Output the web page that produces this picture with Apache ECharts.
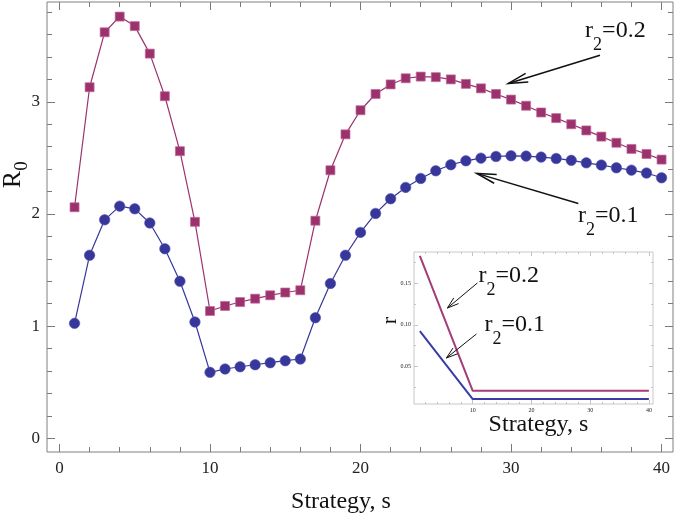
<!DOCTYPE html>
<html><head><meta charset="utf-8">
<script src="https://cdn.jsdelivr.net/npm/echarts@6/dist/echarts.min.js"></script>
<style>html,body{margin:0;padding:0;background:#fff}#c{width:675px;height:520px}</style>
</head><body><div id="c"></div>
<script>
// ---- data ----
const strategy = [1,2,3,4,5,6,7,8,9,10,11,12,13,14,15,16,17,18,19,20,21,22,23,24,25,26,27,28,29,30,31,32,33,34,35,36,37,38,39,40];
const r0_r2_02 = [2.06,3.13,3.62,3.76,3.675,3.43,3.05,2.56,1.93,1.135,1.18,1.215,1.245,1.275,1.30,1.32,1.94,2.39,2.71,2.925,3.07,3.155,3.21,3.225,3.22,3.20,3.16,3.12,3.07,3.02,2.965,2.905,2.855,2.80,2.745,2.69,2.635,2.58,2.535,2.485];
const r0_r2_01 = [1.025,1.632,1.948,2.07,2.046,1.92,1.69,1.40,1.037,0.588,0.618,0.638,0.656,0.674,0.692,0.707,1.075,1.38,1.632,1.836,2.005,2.136,2.237,2.317,2.385,2.439,2.474,2.498,2.513,2.519,2.516,2.507,2.495,2.478,2.456,2.436,2.412,2.391,2.365,2.323];
const insetS = [1, 10, 40];
const insetR_02 = [0.183, 0.0205, 0.0205];
const insetR_01 = [0.0925, 0.0105, 0.0105];
const mainXTicks = [0, 10, 20, 30, 40];
const mainYTicks = [0, 1, 2, 3];
const insetXTicks = [10, 20, 30, 40];
const insetYTicks = [0.05, 0.10, 0.15];
const xTitle = 'Strategy, s';
const insetYTitle = 'r';
const label02 = '0.2', label01 = '0.1';

// ---- helpers ----
const SERIF = "'Liberation Serif','Times New Roman',serif";
function steps(a, b, d) { const o = []; for (let k = 0; a + k * d <= b + 1e-9; k++) o.push(+(a + k * d).toFixed(4)); return o; }
function pairs(xs, ys) { return xs.map((x, i) => [x, ys[i]]); }

function axisSet(dim, grid, min, max, majors, minors, showLabel, fmt, fs, lmargin, majLen, minLen, col) {
  const posA = dim === 'x' ? 'bottom' : 'left';
  const posB = dim === 'x' ? 'top' : 'right';
  const base = (pos, ticks, len, lab) => ({
    type: 'value', gridIndex: grid, min: min, max: max, position: pos,
    axisLine: { show: false, onZero: false },
    splitLine: { show: false },
    axisTick: { show: true, inside: true, length: len, customValues: ticks, lineStyle: { color: col, width: 1 } },
    axisLabel: lab ? { show: true, customValues: majors, formatter: fmt, fontFamily: SERIF, fontSize: fs, color: '#222', margin: lmargin } : { show: false },
    axisPointer: { show: false }
  });
  return [
    base(posA, majors, majLen, showLabel),
    base(posA, minors, minLen, false),
    base(posB, majors, majLen, false),
    base(posB, minors, minLen, false)
  ];
}

const mainXMin = -0.83, mainXMax = 40.76, mainYMin = -0.122, mainYMax = 3.89;
const insXMin = 0.0, insXMax = 40.7, insYMin = 0.0046, insYMax = 0.1877;

const xAxes = [].concat(
  axisSet('x', 0, mainXMin, mainXMax, mainXTicks, steps(0, 40, 2).filter(v => v % 10 !== 0), true, v => String(v), 17, 8, 8, 5, '#7a7a7a'),
  axisSet('x', 1, insXMin, insXMax, insetXTicks, steps(2, 40, 2).filter(v => v % 10 !== 0), true, v => String(v), 6, 3, 4, 2, '#c4c4c4')
);
const yAxes = [].concat(
  axisSet('y', 0, mainYMin, mainYMax, mainYTicks, steps(0, 3.8, 0.2).filter(v => Math.abs(v - Math.round(v)) > 1e-6), true, v => String(v), 17, 7, 8, 5, '#7a7a7a'),
  axisSet('y', 1, insYMin, insYMax, insetYTicks, steps(0.025, 0.175, 0.025).filter(v => Math.abs(v * 20 - Math.round(v * 20)) > 1e-6), true, v => v.toFixed(2), 6, 3, 4, 2, '#c4c4c4')
);

const purple = '#9b326e', blue = '#37379b';
const chart = echarts.init(document.getElementById('c'), null, { renderer: 'canvas' });
chart.setOption({
  animation: false,
  backgroundColor: '#fff',
  grid: [
    { left: 47, top: 2, width: 626, height: 450, show: true, borderColor: '#808080', borderWidth: 1, backgroundColor: 'transparent' },
    { left: 414, top: 252, width: 239, height: 152, show: true, borderColor: '#c8c8c8', borderWidth: 1, backgroundColor: '#fff' }
  ],
  xAxis: xAxes,
  yAxis: yAxes,
  series: [
    { type: 'line', xAxisIndex: 0, yAxisIndex: 0, data: pairs(strategy, r0_r2_02), symbol: 'rect', symbolSize: 9, showAllSymbol: true,
      lineStyle: { color: purple, width: 1.2 }, itemStyle: { color: purple, borderColor: '#c06a9a', borderWidth: 0.7 }, z: 3 },
    { type: 'line', xAxisIndex: 0, yAxisIndex: 0, data: pairs(strategy, r0_r2_01), symbol: 'circle', symbolSize: 10.5, showAllSymbol: true,
      lineStyle: { color: blue, width: 1.2 }, itemStyle: { color: blue, borderColor: '#5656b0', borderWidth: 0.6 }, z: 3 },
    { type: 'line', xAxisIndex: 4, yAxisIndex: 4, data: pairs(insetS, insetR_02), symbol: 'none',
      lineStyle: { color: '#a33d78', width: 2 }, z: 5 },
    { type: 'line', xAxisIndex: 4, yAxisIndex: 4, data: pairs(insetS, insetR_01), symbol: 'none',
      lineStyle: { color: '#3b3ba6', width: 2 }, z: 5 }
  ]
});

// ---- annotations (anchored in data coordinates) ----
function px(si, p) { return chart.convertToPixel({ seriesIndex: si }, p); }
function arrow(si, tail, tip, headLen, halfDeg, lw) {
  const a = px(si, tail), b = px(si, tip);
  const ang = Math.atan2(a[1] - b[1], a[0] - b[0]);
  const h = halfDeg * Math.PI / 180;
  const w1 = [b[0] + headLen * Math.cos(ang + h), b[1] + headLen * Math.sin(ang + h)];
  const w2 = [b[0] + headLen * Math.cos(ang - h), b[1] + headLen * Math.sin(ang - h)];
  return [
    { type: 'polyline', z: 100, shape: { points: [a, b] }, style: { stroke: '#111', lineWidth: lw, fill: null } },
    { type: 'polyline', z: 100, shape: { points: [w1, b, w2] }, style: { stroke: '#111', lineWidth: lw, fill: null } }
  ];
}
function r2Label(si, p, val, size) {
  const q = px(si, p);
  const sub = Math.round(size * 0.76);
  return { type: 'text', z: 100, x: q[0], y: q[1] - 4, style: {
    text: '{m|r}{s|2}{m|=' + val + '}', align: 'left', verticalAlign: 'top', fill: '#111',
    rich: {
      m: { fontFamily: SERIF, fontSize: size, lineHeight: size, verticalAlign: 'top', fill: '#111' },
      s: { fontFamily: SERIF, fontSize: sub, lineHeight: sub, verticalAlign: 'top', padding: [Math.round(size * 0.7), 0, 0, 0], fill: '#111' }
    } } };
}
const g = [];
g.push(...arrow(0, [35.91, 3.416], [29.82, 3.164], 20, 13, 1.5));
g.push(...arrow(0, [34.47, 2.094], [27.72, 2.362], 20, 13, 1.5));
g.push(r2Label(0, [34.92, 3.701], label02, 24));
g.push(r2Label(0, [34.45, 2.053], label01, 24));
g.push(...arrow(2, [10.80, 0.1504], [5.69, 0.1202], 12, 18, 1));
g.push(...arrow(2, [10.63, 0.0889], [5.52, 0.0600], 12, 18, 1));
g.push(r2Label(2, [10.97, 0.1684], label02, 24));
g.push(r2Label(2, [11.99, 0.1094], label01, 24));
// axis titles
const mainBottom = px(0, [20, mainYMin]);
g.push({ type: 'text', z: 100, x: px(0, [18.7, 0])[0], y: mainBottom[1] + 50, style: { text: xTitle, fontFamily: SERIF, fontSize: 24, fill: '#111', align: 'center', verticalAlign: 'middle' } });
g.push({ type: 'text', z: 100, x: 13, y: px(0, [0, 2.35])[1], rotation: Math.PI / 2, style: {
  text: '{a|R}{b|0}', align: 'center', verticalAlign: 'middle',
  rich: { a: { fontFamily: SERIF, fontSize: 26, lineHeight: 26, verticalAlign: 'top', fill: '#111' },
          b: { fontFamily: SERIF, fontSize: 19, lineHeight: 19, verticalAlign: 'top', padding: [13, 0, 0, 0], fill: '#111' } } } });
const insBottom = px(2, [20, insYMin]);
g.push({ type: 'text', z: 100, x: px(2, [21.2, 0.1])[0], y: insBottom[1] + 21, style: { text: xTitle, fontFamily: SERIF, fontSize: 24, fill: '#111', align: 'center', verticalAlign: 'middle' } });
g.push({ type: 'text', z: 100, x: 390, y: px(2, [0, 0.105])[1], rotation: Math.PI / 2, style: { text: insetYTitle, fontFamily: SERIF, fontSize: 22, fill: '#111', align: 'center', verticalAlign: 'middle' } });
chart.setOption({ graphic: g });
</script>
</body></html>
